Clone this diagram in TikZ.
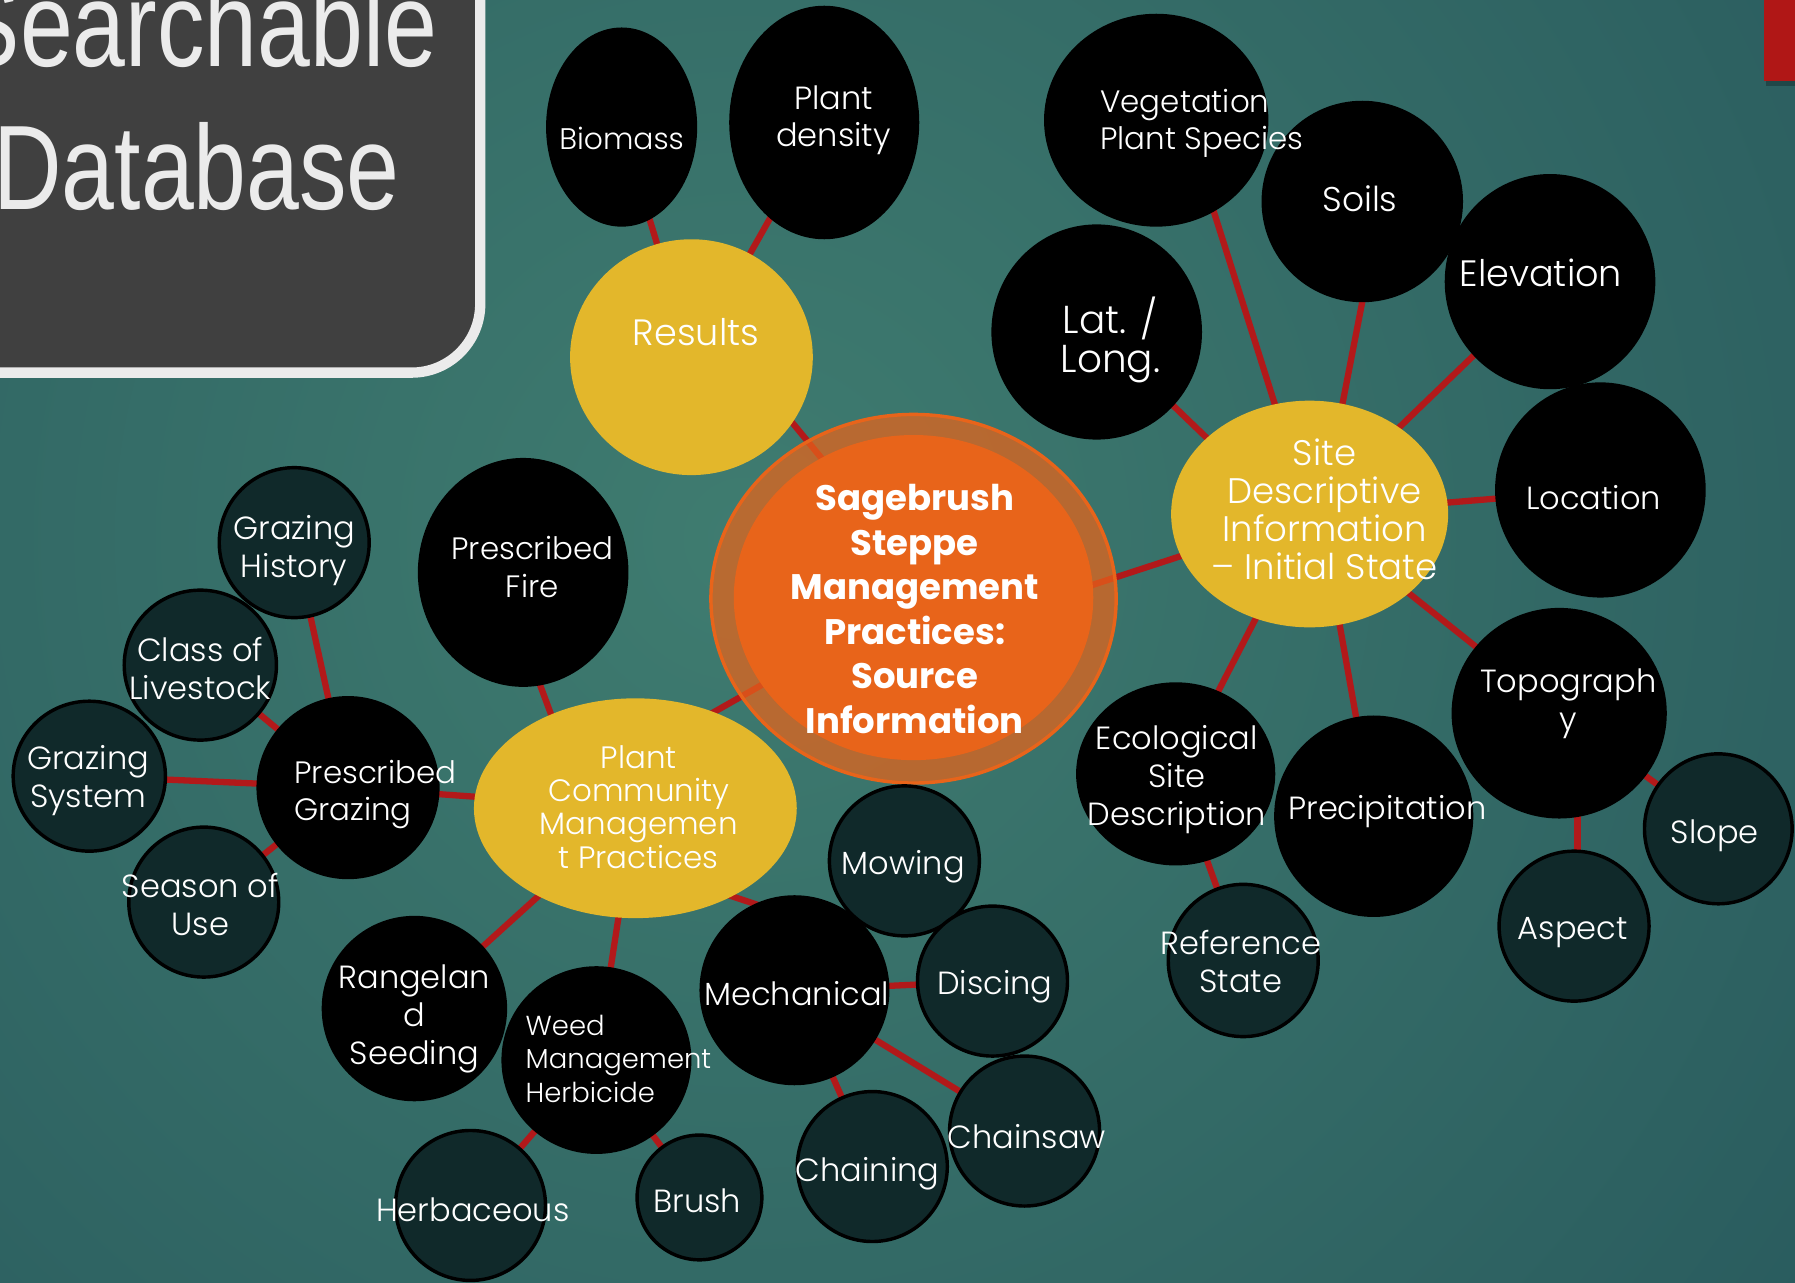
\documentclass[tikz,border=0pt]{standalone}
\usepackage{fontspec}
\setmainfont{Poppins}[UprightFont=* Light, BoldFont=* Bold]
\newfontfamily\titlefont[FakeStretch=0.79]{Liberation Sans}
\usetikzlibrary{shapes.geometric}
\pgfdeclarelayer{bg}
\pgfdeclarelayer{edges}
\pgfsetlayers{bg,edges,main}
\definecolor{dteal}{HTML}{10292A}
\definecolor{gold}{HTML}{E3B72B}
\definecolor{edgered}{HTML}{B2191A}
\definecolor{corange}{HTML}{E8641A}
\definecolor{boxgray}{HTML}{404040}
\definecolor{boxwhite}{HTML}{EBEBEB}
\definecolor{bginner}{HTML}{3F7C70}
\definecolor{bgouter}{HTML}{163E4E}
\definecolor{flagred}{HTML}{B01716}
\newcommand{\fsz}[2]{\fontsize{#1}{#2}\selectfont}
\newcommand{\bubble}[6]{\node[#1, minimum width=#5pt, minimum height=#6pt] (#2) at (#3,#4) {};}
\tikzset{
 bub/.style={ellipse, inner sep=0pt, outer sep=0pt},
 blk/.style={bub, fill=black},
 dtl/.style={bub, fill=dteal, draw=black, line width=3pt},
 gld/.style={bub, fill=gold},
 lbl/.style={text=white, align=center, inner sep=0pt, font=\fsz{28}{33}},
 link/.style={draw=edgered, line width=5.5pt},
}
\begin{document}
\begin{tikzpicture}[x=1pt,y=-1pt]
\useasboundingbox (0,0) rectangle (1568,1120);
\begin{pgfonlayer}{bg}
\clip (0,0) rectangle (1568,1120);
\fill[bgouter] (0,0) rectangle (1568,1120);
\shade[inner color=bginner, outer color=bgouter] (-1550,-1730) rectangle (2850,2670);
\end{pgfonlayer}

% title box
\draw[fill=boxgray, draw=boxwhite, line width=9pt, rounded corners=60pt] (-60,-60) rectangle (419.5,325.5);
\node[anchor=base east, text=boxwhite, inner sep=0pt, font=\titlefont\fsz{105}{105}] (title1) at (382,58) {Searchable};
\node[anchor=base west, text=boxwhite, inner sep=0pt, font=\titlefont\fsz{105}{105}] (title2) at (-6,183) {Database};

% red flag
\fill[black, opacity=0.25] (1543,0) rectangle (1575,75);
\fill[flagred] (1541,-5) rectangle (1575,71);

% results group
\bubble{blk}{biomass}{543}{111}{132}{174}
\bubble{blk}{pdens}{720}{107}{166}{204}
\bubble{gld}{results}{604}{312}{212}{206}

% core
\node[bub, minimum width=354pt, minimum height=322pt, fill=corange, fill opacity=0.72, draw=corange, line width=3pt] (core) at (798,523) {};
\node[bub, minimum width=314pt, minimum height=284pt, fill=corange] (coreinner) at (798,522) {};

% site group
\bubble{blk}{veg}{1010}{105}{196}{186}
\bubble{blk}{soils}{1190}{176}{176}{176}
\bubble{blk}{elev}{1354}{246}{184}{188}
\bubble{blk}{latlong}{958}{290}{184}{188}
\bubble{blk}{location}{1398}{428}{184}{188}
\bubble{gld}{site}{1144}{449}{242}{198}
\bubble{blk}{topo}{1362}{623}{188}{184}
\bubble{blk}{precip}{1200}{713}{174}{176}
\bubble{blk}{eco}{1027}{676}{174}{160}
\bubble{dtl}{refst}{1086}{839}{131}{133}
\bubble{dtl}{aspect}{1375}{809}{131}{131}
\bubble{dtl}{slope}{1501}{724}{129}{131}

% plant community group
\bubble{blk}{pfire}{457}{500}{184}{200}
\bubble{gld}{pcmp}{555}{706}{282}{192}
\bubble{blk}{pgraz}{304}{688}{160}{160}
\bubble{dtl}{ghist}{257}{474}{131}{131}
\bubble{dtl}{class}{175}{581}{133}{131}
\bubble{dtl}{gsys}{78}{678}{133}{131}
\bubble{dtl}{season}{178}{788}{131}{131}
\bubble{blk}{range}{362}{881}{162}{162}
\bubble{blk}{weed}{521}{926}{166}{164}
\bubble{dtl}{herb}{411}{1053}{131}{131}
\bubble{dtl}{brush}{611}{1046}{109}{109}
\bubble{blk}{mech}{694}{865}{166}{166}
\bubble{dtl}{mowing}{790}{752}{131}{131}
\bubble{dtl}{discing}{867}{857}{131}{131}
\bubble{dtl}{chaining}{762}{1019}{131}{131}
\bubble{dtl}{chainsaw}{895}{988}{131}{131}

% connectors
\begin{pgfonlayer}{edges}
\foreach \a/\b in {results/biomass, results/pdens,
  site/elev, site/location, site/topo, site/eco,
  eco/refst, topo/slope,
  pcmp/pgraz, pcmp/range, pcmp/weed,
  pgraz/ghist, pgraz/class, pgraz/gsys, pgraz/season,
  weed/herb, weed/brush,
  mech/mowing, mech/discing, mech/chaining, mech/chainsaw}
  \draw[link] (\a.center) -- (\b.center);
\draw[link] ([yshift=50pt]results.center) -- ([yshift=25pt]core.center);
\draw[link] (site.center) -- ([yshift=-39pt]core.center);
\draw[link] ([yshift=-20pt]site.center) -- (latlong.center);
\draw[link] (site.center) -- ([xshift=25pt]veg.center);
\draw[link] ([xshift=10pt]site.center) -- ([xshift=17pt]soils.center);
\draw[link] ([xshift=9pt]site.center) -- (precip.center);
\draw[link] ([xshift=16pt]topo.center) -- ([xshift=3pt]aspect.center);
\draw[link] ([yshift=45pt]pcmp.center) -- (core.center);
\draw[link] ([xshift=-43pt]pcmp.center) -- ([xshift=-22pt]pfire.center);
\draw[link] ([yshift=-49pt]pcmp.center) -- ([yshift=64pt]mech.center);
\end{pgfonlayer}

% texts
\node[lbl, font=\fsz{26}{30}] (biomass-t) at (543,121) {Biomass};
\node[lbl, font=\fsz{28}{32}] (pdens-t) at (728,105) {Plant\\density};
\node[lbl, font=\fsz{32}{36}] (results-t) at (608,290) {Results};
\node[lbl, font=\bfseries\fsz{31}{39}] (core-t) at (799,532) {Sagebrush\\Steppe\\Management\\Practices:\\Source\\Information};
\node[lbl, font=\fsz{31}{33}] (site-t) at (1157,445) {Site\\Descriptive\\Information\\– Initial State};
\node[lbl, anchor=west, align=left, font=\fsz{27}{32}] (veg-t) at (961,108) {Vegetation\\Plant Species};
\node[lbl, font=\fsz{30}{34}] (soils-t) at (1188,174) {Soils};
\node[lbl, font=\fsz{32}{36}] (elev-t) at (1346,238) {Elevation};
\node[lbl, font=\fsz{34}{34}] (latlong-t) at (970,297) {Lat. /\\Long.};
\node[lbl] (location-t) at (1392,435) {Location};
\node[lbl] (topo-t) at (1370,615) {Topograph\\y};
\node[lbl] (precip-t) at (1212,709) {Precipitation};
\node[lbl] (eco-t) at (1028,681) {Ecological\\Site\\Description};
\node[lbl] (refst-t) at (1084,840) {Reference\\State};
\node[lbl] (aspect-t) at (1374,815) {Aspect};
\node[lbl] (slope-t) at (1498,730) {Slope};
\node[lbl, font=\fsz{27}{33}] (pfire-t) at (465,495) {Prescribed\\Fire};
\node[lbl, font=\fsz{27}{29}] (pcmp-t) at (558,705) {Plant\\Community\\Managemen\\t Practices};
\node[lbl, anchor=west, align=left, font=\fsz{27}{33}] (pgraz-t) at (257,694) {Prescribed\\Grazing};
\node[lbl] (ghist-t) at (257,481) {Grazing\\History};
\node[lbl] (class-t) at (175,584) {Class of\\Livestock};
\node[lbl] (gsys-t) at (77,682) {Grazing\\System};
\node[lbl] (season-t) at (175,790) {Season of\\Use};
\node[lbl] (range-t) at (362,890) {Rangelan\\d\\Seeding};
\node[lbl, anchor=west, align=left, font=\fsz{24}{29}] (weed-t) at (459,925) {Weed\\Management\\Herbicide};
\node[lbl] (herb-t) at (413,1057) {Herbaceous};
\node[lbl] (brush-t) at (609,1049) {Brush};
\node[lbl] (mech-t) at (696,868) {Mechanical};
\node[lbl] (mowing-t) at (789,757) {Mowing};
\node[lbl] (discing-t) at (869,862) {Discing};
\node[lbl] (chainsaw-t) at (897,993) {Chainsaw};
\node[lbl] (chaining-t) at (758,1025) {Chaining};
\end{tikzpicture}
\end{document}
